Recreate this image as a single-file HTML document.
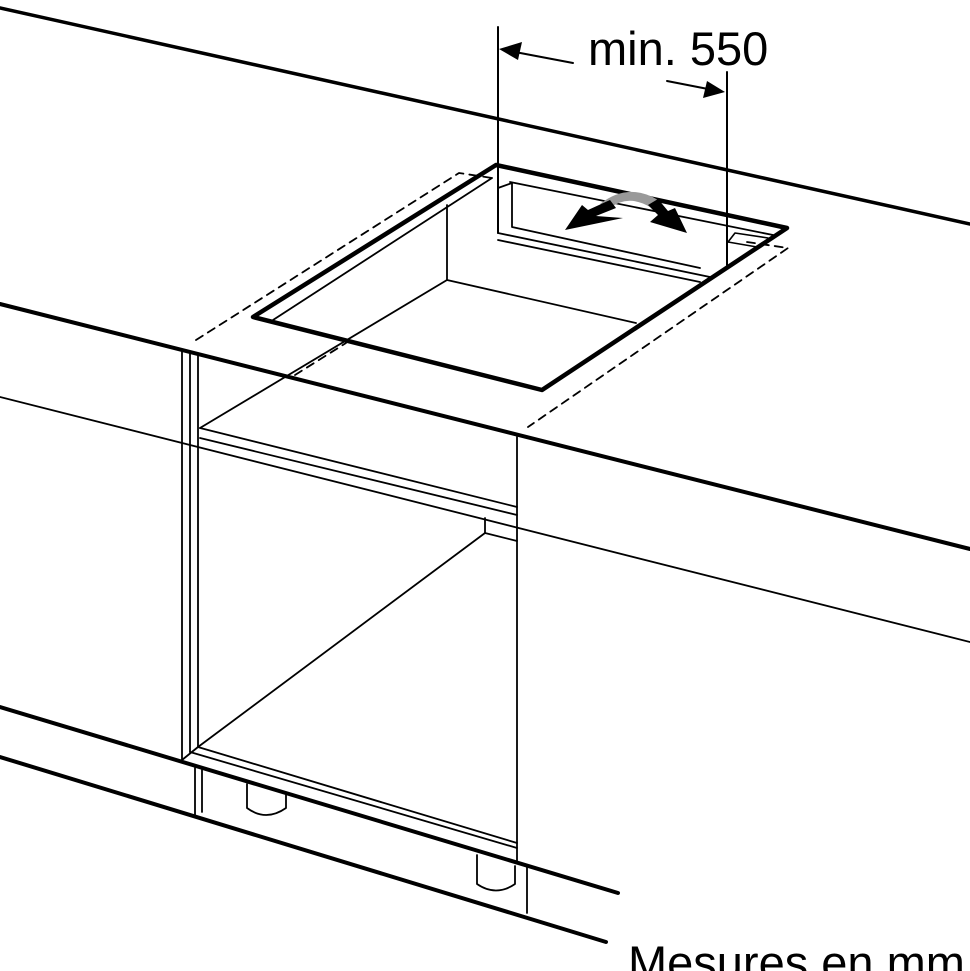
<!DOCTYPE html>
<html><head><meta charset="utf-8"><style>
html,body{margin:0;padding:0;background:#fff;width:970px;height:971px;overflow:hidden}
svg{display:block}
text{font-family:"Liberation Sans",sans-serif;fill:#000}
</style></head><body>
<svg width="970" height="971" viewBox="0 0 970 971" xmlns="http://www.w3.org/2000/svg">
<g stroke="#000" fill="none" stroke-linecap="round" stroke-linejoin="round">
<line x1="0" y1="8" x2="970" y2="224" stroke-width="3.5"/>
<line x1="0" y1="304" x2="970" y2="549" stroke-width="4"/>
<line x1="0" y1="397" x2="970" y2="642" stroke-width="1.8"/>
<line x1="0" y1="707" x2="618" y2="893" stroke-width="4"/>
<line x1="0" y1="757" x2="606" y2="942" stroke-width="4"/>
<polygon points="253,317 496,165 787,228 542,390" stroke-width="4.5"/>
<line x1="273" y1="320" x2="492" y2="178" stroke-width="1.8"/>
<line x1="447" y1="205" x2="447" y2="280" stroke-width="1.8"/>
<line x1="447" y1="280" x2="636" y2="323" stroke-width="1.8"/>
<line x1="447" y1="280" x2="200" y2="428" stroke-width="1.8"/>
<line x1="510" y1="182" x2="773" y2="235" stroke-width="1.8"/>
<polyline points="498,188 498,233 710,277" stroke-width="1.8"/>
<polyline points="512,183 512,227 700,268" stroke-width="1.8"/>
<line x1="498" y1="188" x2="512" y2="183" stroke-width="1.8"/>
<line x1="498" y1="240" x2="700" y2="282" stroke-width="1.8"/>
<polyline points="728,242 735,233 768,238" stroke-width="1.6"/>
<line x1="728" y1="242" x2="757" y2="247" stroke-width="1.6"/>
<line x1="498" y1="27" x2="498" y2="233" stroke-width="2"/>
<line x1="727" y1="72" x2="727" y2="265" stroke-width="2"/>
<line x1="573" y1="63" x2="515" y2="52" stroke-width="2"/>
<line x1="667" y1="81" x2="708" y2="89" stroke-width="2"/>
<g stroke-dasharray="8,6" stroke-width="1.8">
<polyline points="196,340 459,173 492,178"/>
<polyline points="747,242 788,248 528,427"/>
<line x1="295" y1="375" x2="346" y2="343"/>
</g>
<g stroke-width="1.8">
<line x1="182" y1="350" x2="182" y2="760"/>
<line x1="190" y1="352" x2="190" y2="752"/>
<line x1="198" y1="354" x2="198" y2="747"/>
<line x1="517" y1="437" x2="517" y2="862"/>
<line x1="200" y1="428" x2="517" y2="507"/>
<line x1="200" y1="438" x2="517" y2="515"/>
<line x1="485" y1="518" x2="485" y2="533"/>
<line x1="485" y1="533" x2="517" y2="541"/>
<line x1="485" y1="533" x2="198" y2="747"/>
<line x1="190" y1="752" x2="517" y2="848"/>
<line x1="198" y1="747" x2="517" y2="843"/>
<line x1="182" y1="760" x2="198" y2="747"/>
<line x1="195" y1="768" x2="195" y2="817"/>
<line x1="202" y1="770" x2="202" y2="812"/>
<line x1="527" y1="867" x2="527" y2="913"/>
<path d="M247,784 V808 Q266,822 286,808 V795"/>
<path d="M477,855 V884 Q496,897 515,884 V866"/>
</g>
</g>
<polygon points="499,49 522,42 518,60" fill="#000"/>
<polygon points="725,92 703,98 707,81" fill="#000"/>
<path d="M600,204 Q628,182 658,200 L650,207 Q628,194 610,208 Z" fill="#999"/>
<polygon points="565,230 582,205 588,210 610,200 616,208 596,216 623,218" fill="#000"/>
<polygon points="648,205 658,199 668,211 675,208 687,233 650,222 658,215" fill="#000"/>
<text x="588" y="65" font-size="47">min. 550</text>
<text x="628" y="979" font-size="47">Mesures en mm</text>
</svg>
</body></html>
